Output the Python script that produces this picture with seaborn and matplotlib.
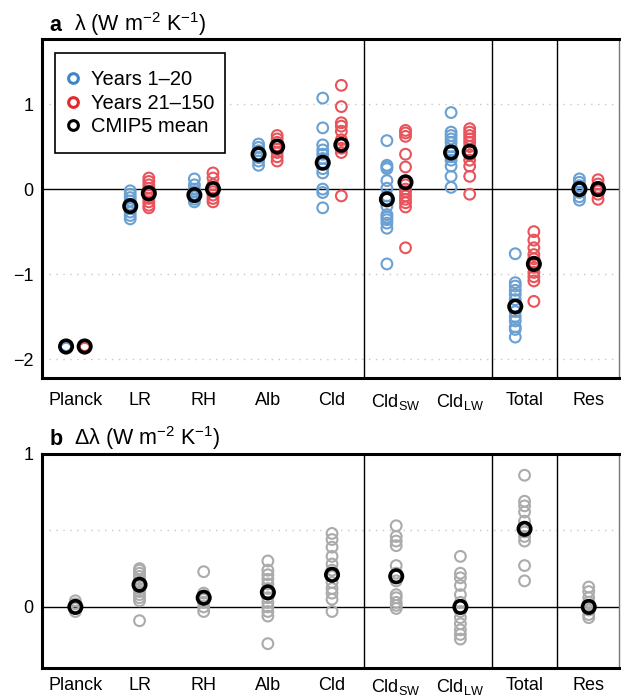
import numpy as np
import pandas as pd
import matplotlib
matplotlib.use("Agg")
import matplotlib.pyplot as plt
import seaborn as sns
from matplotlib.lines import Line2D
from matplotlib.patches import Rectangle

sns.set_theme(style="white")
plt.rcParams['font.family'] = ['Liberation Sans', 'DejaVu Sans']
plt.rcParams['mathtext.fontset'] = 'custom'
plt.rcParams['mathtext.rm'] = 'Liberation Sans'
plt.rcParams['mathtext.it'] = 'Liberation Sans:italic'
plt.rcParams['mathtext.bf'] = 'Liberation Sans:bold'
plt.rcParams['text.color'] = 'black'
plt.rcParams['xtick.color'] = 'black'
plt.rcParams['ytick.color'] = 'black'
plt.rcParams['axes.labelcolor'] = 'black'

categories = ["Planck", "LR", "RH", "Alb", "Cld", "Cld_SW", "Cld_LW", "Total", "Res"]
tick_labels = ["Planck", "LR", "RH", "Alb", "Cld", r"Cld$_{\rm SW}$", r"Cld$_{\rm LW}$", "Total", "Res"]

# Panel a: years 1-20 (blue)
early = {
    "Planck": [-1.84, -1.85, -1.86, -1.87, -1.85],
    "LR": [-0.02, -0.06, -0.10, -0.14, -0.18, -0.20, -0.23, -0.27, -0.31, -0.35],
    "RH": [0.12, 0.05, 0.0, -0.03, -0.06, -0.09, -0.12, -0.15],
    "Alb": [0.53, 0.49, 0.45, 0.41, 0.37, 0.33, 0.28],
    "Cld": [1.07, 0.72, 0.52, 0.46, 0.41, 0.36, 0.30, 0.24, 0.19, 0.0, -0.04, -0.22],
    "Cld_SW": [0.57, 0.28, 0.26, 0.24, 0.10, 0.01, -0.08, -0.12, -0.20, -0.30, -0.33, -0.36, -0.40, -0.46, -0.88],
    "Cld_LW": [0.90, 0.67, 0.63, 0.59, 0.55, 0.50, 0.45, 0.38, 0.34, 0.27, 0.15, 0.02],
    "Total": [-0.76, -1.10, -1.14, -1.19, -1.24, -1.30, -1.38, -1.44, -1.50, -1.55, -1.62, -1.65, -1.74],
    "Res": [0.12, 0.08, 0.04, 0.0, -0.04, -0.09, -0.13],
}
# Panel a: years 21-150 (red)
late = {
    "Planck": [-1.84, -1.85, -1.86, -1.87, -1.85],
    "LR": [0.13, 0.09, 0.05, 0.01, -0.03, -0.07, -0.11, -0.15, -0.19, -0.22],
    "RH": [0.19, 0.13, 0.05, 0.01, -0.03, -0.07, -0.11, -0.15],
    "Alb": [0.63, 0.59, 0.55, 0.51, 0.47, 0.43, 0.38, 0.33],
    "Cld": [1.22, 0.97, 0.78, 0.74, 0.68, 0.58, 0.53, 0.48, 0.43, -0.08],
    "Cld_SW": [0.69, 0.66, 0.62, 0.41, 0.26, 0.05, 0.0, -0.03, -0.08, -0.12, -0.16, -0.21, -0.69],
    "Cld_LW": [0.71, 0.67, 0.63, 0.59, 0.55, 0.50, 0.45, 0.40, 0.34, 0.27, 0.15, -0.06],
    "Total": [-0.50, -0.60, -0.69, -0.77, -0.82, -0.86, -0.92, -0.98, -1.03, -1.08, -1.32],
    "Res": [0.11, 0.06, 0.02, -0.02, -0.06, -0.12],
}
mean_early = [-1.85, -0.20, -0.07, 0.41, 0.31, -0.12, 0.43, -1.38, 0.0]
mean_late = [-1.85, -0.05, 0.0, 0.50, 0.52, 0.08, 0.44, -0.88, 0.0]

# Panel b: delta lambda
delta = {
    "Planck": [0.04, 0.02, 0.0, -0.01, -0.03],
    "LR": [0.25, 0.24, 0.22, 0.20, 0.18, 0.16, 0.14, 0.12, 0.10, 0.08, 0.06, 0.04, -0.09],
    "RH": [0.23, 0.09, 0.07, 0.05, 0.03, 0.0, -0.03],
    "Alb": [0.30, 0.24, 0.21, 0.18, 0.15, 0.12, 0.09, 0.06, 0.03, 0.0, -0.03, -0.06, -0.24],
    "Cld": [0.48, 0.44, 0.39, 0.33, 0.28, 0.24, 0.20, 0.16, 0.12, 0.09, 0.05, -0.03],
    "Cld_SW": [0.53, 0.46, 0.43, 0.40, 0.27, 0.22, 0.17, 0.08, 0.06, 0.03, 0.01, -0.01],
    "Cld_LW": [0.33, 0.22, 0.19, 0.14, 0.08, 0.03, -0.03, -0.07, -0.11, -0.15, -0.18, -0.21],
    "Total": [0.86, 0.69, 0.66, 0.62, 0.56, 0.52, 0.49, 0.46, 0.43, 0.27, 0.17],
    "Res": [0.13, 0.10, 0.06, 0.03, 0.01, -0.02, -0.05, -0.07],
}
mean_delta = [0.0, 0.145, 0.06, 0.095, 0.21, 0.20, 0.0, 0.51, 0.0]

BLUE = "#6aa0d2"
RED = "#e8545b"
GRAY = "#ababab"
OFF = 0.145

def long_df(d, offset):
    rows = []
    for i, c in enumerate(categories):
        for v in d[c]:
            rows.append({"x": i + offset, "y": v})
    return pd.DataFrame(rows)

fig = plt.figure(figsize=(6.21, 6.96), dpi=100)
ax_a = fig.add_axes([0.0676, 0.457, 0.929, 0.487])
ax_b = fig.add_axes([0.0676, 0.040, 0.929, 0.308])

mk = dict(marker="o", s=60, facecolor="none", linewidth=1.5, legend=False)
mk_mean = dict(marker="o", s=80, facecolor="none", edgecolor="black", linewidth=2.6, legend=False)

# Panel a
sns.scatterplot(data=long_df(early, -OFF), x="x", y="y", edgecolor=BLUE, ax=ax_a, zorder=3, **mk)
sns.scatterplot(data=long_df(late, OFF), x="x", y="y", edgecolor=RED, ax=ax_a, zorder=3, **mk)
me = pd.DataFrame({"x": np.arange(len(categories)) - OFF, "y": mean_early})
ml = pd.DataFrame({"x": np.arange(len(categories)) + OFF, "y": mean_late})
sns.scatterplot(data=me, x="x", y="y", ax=ax_a, zorder=4, **mk_mean)
sns.scatterplot(data=ml, x="x", y="y", ax=ax_a, zorder=4, **mk_mean)

# Panel b
sns.scatterplot(data=long_df(delta, 0.0), x="x", y="y", edgecolor=GRAY, ax=ax_b, zorder=3, **mk)
md = pd.DataFrame({"x": np.arange(len(categories)), "y": mean_delta})
sns.scatterplot(data=md, x="x", y="y", ax=ax_b, zorder=4, **mk_mean)

for ax, ylim, yticks, ylabels, grids, xpad in [
    (ax_a, (-2.22, 1.765), [-2, -1, 0, 1], ["\u22122", "\u22121", "0", "1"], [-2, -1, 1], 10),
    (ax_b, (-0.40, 1.0), [0, 0.5, 1], ["0", "", "1"], [0.5], 6.5),
]:
    ax.set_xlim(-0.52, 8.47)
    ax.set_ylim(*ylim)
    ax.set_xticks(range(len(categories)))
    ax.set_xticklabels(tick_labels, fontsize=13)
    ax.set_yticks(yticks)
    ax.set_yticklabels(ylabels, fontsize=13)
    ax.set_xlabel("")
    ax.set_ylabel("")
    ax.tick_params(axis="both", direction="in", length=4, width=1, color="black",
                   labelcolor="black")
    ax.tick_params(axis="x", pad=xpad)
    ax.tick_params(axis="y", pad=6)
    for g in grids:
        ax.axhline(g, color="#c8c8c8", lw=1, ls=(0, (1, 4)), zorder=1)
    ax.axhline(0, color="black", lw=1, zorder=2)
    for xv in [4.5, 6.5, 7.5]:
        ax.axvline(xv, color="black", lw=1, zorder=2)
    for s in ["left", "bottom", "top"]:
        ax.spines[s].set_linewidth(2.2)
        ax.spines[s].set_color("black")
    ax.spines["right"].set_linewidth(1)
    ax.spines["right"].set_color("#777777")

# Legend box
ax_a.add_patch(Rectangle((0.0225, 0.664), 0.2945, 0.295, transform=ax_a.transAxes,
                         facecolor="white", edgecolor="black", lw=1.2, zorder=5))
handles = [
    Line2D([], [], marker="o", ls="none", mfc="none", mec="#3f86c8", mew=2.2, ms=7),
    Line2D([], [], marker="o", ls="none", mfc="none", mec="#e8262e", mew=2.2, ms=7),
    Line2D([], [], marker="o", ls="none", mfc="none", mec="black", mew=2.2, ms=7),
]
leg = ax_a.legend(handles, ["Years 1\u201320", "Years 21\u2013150", "CMIP5 mean"],
                  loc="center left", bbox_to_anchor=(0.033, 0.810), fontsize=14.5,
                  frameon=False, handletextpad=0.3, handlelength=1.2,
                  borderpad=0, labelspacing=0.22, borderaxespad=0)
leg.set_zorder(6)
for t in leg.get_texts():
    t.set_color("black")

# Titles
fig.text(0.080, 0.956, "a", fontsize=15.5, fontweight="bold", ha="left", va="baseline")
fig.text(0.119, 0.956, "\u03bb (W m$^{-2}$ K$^{-1}$)", fontsize=15.5, ha="left", va="baseline")
fig.text(0.080, 0.361, "b", fontsize=15.5, fontweight="bold", ha="left", va="baseline")
fig.text(0.119, 0.361, "\u0394\u03bb (W m$^{-2}$ K$^{-1}$)", fontsize=15.5, ha="left", va="baseline")

fig.savefig("out.png", dpi=100)
